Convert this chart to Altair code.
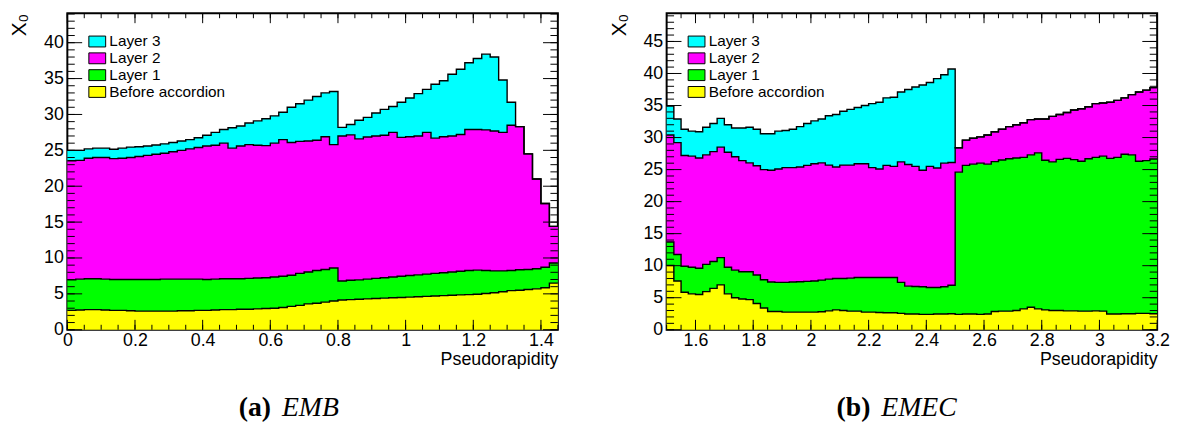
import altair as alt
import pandas as pd

# ---------------- data (cumulative X0 at the top of each layer, per bin) ----------------
LAYERS = ["Layer 3", "Layer 2", "Layer 1", "Before accordion"]
COLORS = ["#00ffff", "#ff00ff", "#00ff00", "#ffff00"]

# EMB: 0 < eta < 1.45, bins of 0.025
emb_eta_min, emb_eta_max, emb_bin = 0.0, 1.45, 0.025
emb_before = [2.7, 2.75, 2.8, 2.8, 2.75, 2.7, 2.7, 2.65, 2.6, 2.6,
              2.6, 2.6, 2.6, 2.65, 2.65, 2.7, 2.7, 2.75, 2.8, 2.8,
              2.85, 2.85, 2.9, 2.95, 3.0, 3.1, 3.25, 3.4, 3.6, 3.7,
              3.85, 4.0, 4.15, 4.2, 4.25, 4.3, 4.35, 4.4, 4.45, 4.5,
              4.55, 4.6, 4.65, 4.7, 4.75, 4.8, 4.85, 4.9, 4.95, 5.05,
              5.15, 5.3, 5.45, 5.5, 5.6, 5.7, 5.85, 6.5]
emb_layer1 = [6.95, 7.05, 7.1, 7.1, 7.05, 7.0, 7.0, 7.0, 7.0, 7.0,
              7.0, 7.05, 7.05, 7.05, 7.05, 7.05, 7.0, 7.05, 7.1, 7.1,
              7.1, 7.15, 7.2, 7.25, 7.35, 7.45, 7.6, 7.85, 8.05, 8.25,
              8.4, 8.6, 6.8, 6.9, 6.95, 7.05, 7.15, 7.25, 7.35, 7.45,
              7.55, 7.65, 7.75, 7.85, 7.95, 8.05, 8.15, 8.25, 8.3, 8.25,
              8.2, 8.2, 8.25, 8.35, 8.4, 8.5, 8.7, 9.3]
emb_layer2 = [23.55, 23.6, 23.9, 24.0, 24.0, 23.85, 23.9, 24.0, 24.15, 24.3,
              24.45, 24.6, 24.8, 25.0, 25.2, 25.4, 25.6, 25.7, 26.0, 25.3,
              25.6, 25.8, 25.7, 25.65, 26.0, 26.5, 26.1, 26.25, 26.3, 26.4,
              26.9, 25.8, 27.0, 27.15, 26.6, 26.85, 27.0, 27.1, 27.5, 26.8,
              26.9, 27.0, 27.5, 26.7, 26.9, 27.0, 27.2, 27.9, 27.9, 27.85,
              27.7, 27.5, 28.5, 28.3, 24.5, 21.0, 17.6, 14.4]
emb_layer3 = [25.0, 25.0, 25.2, 25.3, 25.3, 25.15, 25.3, 25.45, 25.5, 25.6,
              25.75, 25.9, 26.1, 26.3, 26.5, 26.75, 27.1, 27.5, 27.9, 28.15,
              28.4, 28.8, 29.1, 29.4, 29.8, 30.3, 31.0, 31.5, 32.0, 32.5,
              33.0, 33.2, 28.2, 28.6, 29.2, 29.6, 30.2, 30.7, 31.1, 31.7,
              32.3, 32.9, 33.5, 34.2, 34.7, 35.6, 36.3, 37.2, 37.8, 38.4,
              38.0, 34.8, 31.7, 28.3, 24.5, 21.0, 17.6, 14.4]

# EMEC: 1.5 < eta < 3.2, bins of 0.025
emec_eta_min, emec_eta_max, emec_bin = 1.5, 3.2, 0.025
emec_before = [10.05, 7.6, 5.85, 5.6, 5.5, 5.95, 6.45, 7.0, 5.6, 5.0,
               4.8, 4.7, 4.1, 3.4, 2.85, 2.85, 2.75, 2.75, 2.75, 2.75,
               2.75, 2.8, 2.95, 3.1, 3.0, 2.9, 2.9, 2.75, 2.75, 2.7,
               2.65, 2.65, 2.55, 2.45, 2.45, 2.4, 2.4, 2.45, 2.45, 2.5,
               2.4, 2.45, 2.45, 2.4, 2.45, 2.85, 2.9, 2.9, 3.0, 3.25,
               3.5, 3.25, 3.1, 3.0, 3.0, 2.95, 2.95, 2.9, 2.9, 2.95,
               2.9, 2.45, 2.45, 2.5, 2.5, 2.55, 2.55, 2.5]
emec_layer1 = [13.7, 11.75, 9.9, 9.75, 9.6, 10.2, 10.65, 11.25, 9.75, 9.3,
               9.05, 9.05, 8.55, 7.8, 7.45, 7.4, 7.4, 7.45, 7.5, 7.55,
               7.6, 7.75, 7.9, 8.0, 8.0, 8.05, 8.15, 8.15, 8.15, 8.15,
               8.15, 8.15, 7.4, 6.8, 6.75, 6.7, 6.6, 6.6, 6.7, 6.95,
               24.6, 25.65, 25.85, 26.0, 25.85, 26.25, 26.5, 26.7, 26.8, 26.9,
               27.3, 27.6, 26.45, 26.2, 26.6, 26.75, 26.55, 26.3, 26.7, 26.9,
               27.1, 26.75, 26.9, 27.4, 27.3, 26.3, 26.4, 26.65]
emec_layer2 = [30.4, 29.2, 27.2, 27.1, 26.8, 27.3, 27.8, 28.5, 27.7, 27.0,
               26.4, 26.05, 25.6, 25.0, 24.9, 25.1, 25.3, 25.3, 25.4, 25.65,
               25.9, 26.05, 25.7, 25.4, 25.7, 25.7, 25.9, 25.9, 25.3, 25.1,
               25.65, 25.5, 26.2, 25.8, 25.5, 24.9, 25.5, 25.25, 26.0, 26.1,
               28.4, 29.6, 29.9, 30.1, 30.4, 30.9, 31.3, 31.7, 32.0, 32.3,
               32.8, 32.9, 32.9, 33.3, 33.6, 33.9, 34.3, 34.5, 34.8, 35.3,
               35.4, 35.5, 35.8, 36.2, 36.7, 37.1, 37.4, 37.8]
emec_layer3 = [34.9, 32.9, 31.3, 31.0, 30.9, 31.6, 32.2, 33.0, 32.0, 31.5,
               31.5, 31.6, 31.3, 30.6, 30.6, 31.0, 31.1, 31.3, 31.7, 32.2,
               32.6, 32.9, 33.4, 33.6, 34.1, 34.4, 34.7, 35.0, 35.3, 35.5,
               36.2, 36.3, 37.1, 37.5, 37.9, 38.2, 38.6, 39.2, 39.8, 40.7,
               28.4, 29.6, 29.9, 30.1, 30.4, 30.9, 31.3, 31.7, 32.0, 32.3,
               32.8, 32.9, 32.9, 33.3, 33.6, 33.9, 34.3, 34.5, 34.8, 35.3,
               35.4, 35.5, 35.8, 36.2, 36.7, 37.1, 37.4, 37.8]

emb_ymax = 44.1
emec_ymax = 49.4
emb_xticks = [0, 0.2, 0.4, 0.6, 0.8, 1.0, 1.2, 1.4]
emec_xticks = [1.6, 1.8, 2.0, 2.2, 2.4, 2.6, 2.8, 3.0, 3.2]
emb_yticks = [0, 5, 10, 15, 20, 25, 30, 35, 40]
emec_yticks = [0, 5, 10, 15, 20, 25, 30, 35, 40, 45]

caption_tags = ["(a)", "(b)"]
caption_names = ["EMB", "EMEC"]

W, H = 496, 320
SANS = "Liberation Sans"
SERIF = "Liberation Serif"


def layer_table(lo, step, tops):
    names = ["Before accordion", "Layer 1", "Layer 2", "Layer 3"]
    rows = []
    prev = [0.0] * len(tops[0])
    for name, top in zip(names, tops):
        n = len(top)
        for i in range(n + 1):
            j = min(i, n - 1)
            rows.append({"eta": round(lo + i * step, 4), "top": top[j],
                         "bottom": prev[j], "layer": name})
        prev = top
    return pd.DataFrame(rows)


def frange(a, b, s):
    out = []
    k = 0
    while a + k * s <= b + 1e-9:
        out.append(round(a + k * s, 4))
        k += 1
    return out


def panel(df, xdom, ydom, xlabels, ylabels, xminor, yminor, tag, name):
    xs = alt.Scale(domain=xdom, nice=False, zero=False)
    ys = alt.Scale(domain=ydom, nice=False, zero=False)
    xaxis = alt.Axis(values=xlabels, title="Pseudorapidity", titleAnchor="end",
                     ticks=False, domain=False, grid=False, labelFlush=False,
                     labelOverlap=False, labelPadding=2, titlePadding=1, format="~g")
    yaxis = alt.Axis(values=ylabels, title="X₀", ticks=False, domain=False,
                     grid=False, labelOverlap=False, labelPadding=4,
                     titleAngle=270, titleAlign="right", titleBaseline="middle",
                     titleX=-48, titleY=0, titleFontSize=21)

    area = alt.Chart(df).mark_area(interpolate="step-after", opacity=1).encode(
        x=alt.X("eta:Q", scale=xs, axis=xaxis),
        y=alt.Y("top:Q", scale=ys, stack=None, axis=yaxis),
        y2="bottom:Q",
        color=alt.Color("layer:N", scale=alt.Scale(domain=LAYERS, range=COLORS),
                        legend=alt.Legend(orient="none", legendX=22.5, legendY=20.8,
                                          title=None,
                                          symbolType="M-1.214,-0.786H1.214V0.786H-1.214Z",
                                          symbolSize=196, symbolStrokeColor="black",
                                          symbolStrokeWidth=1, symbolOpacity=1,
                                          labelFont=SANS, labelFontSize=15.5,
                                          labelColor="black", labelOffset=4.5,
                                          rowPadding=0, padding=0)),
    )

    outline = alt.Chart(df).mark_line(interpolate="step-after", color="black",
                                      strokeWidth=1.4).encode(
        x=alt.X("eta:Q", scale=xs, axis=xaxis),
        y=alt.Y("top:Q", scale=ys, axis=yaxis),
        detail="layer:N",
    )

    def xt(vals, y0, y1):
        return alt.Chart(pd.DataFrame({"eta": vals})).mark_rule(
            color="black", strokeWidth=1).encode(
            x=alt.X("eta:Q", scale=xs, axis=xaxis), y=alt.value(y0), y2=alt.value(y1))

    def yt(vals, x0, x1):
        return alt.Chart(pd.DataFrame({"top": vals})).mark_rule(
            color="black", strokeWidth=1).encode(
            y=alt.Y("top:Q", scale=ys, axis=yaxis), x=alt.value(x0), x2=alt.value(x1))

    ticks = [
        xt(xlabels, H, H - 10), xt(xminor, H, H - 5),
        xt(xlabels, 0, 10), xt(xminor, 0, 5),
        yt(ylabels, 0, 15), yt(yminor, 0, 7.5),
        yt(ylabels, W, W - 15), yt(yminor, W, W - 7.5),
    ]

    cap_tag = alt.Chart(pd.DataFrame({"t": [tag]})).mark_text(
        font=SERIF, fontSize=28, fontWeight="bold", align="right",
        baseline="alphabetic", color="black").encode(
        text="t:N", x=alt.value(206), y=alt.value(H + 87))
    cap_name = alt.Chart(pd.DataFrame({"t": [name]})).mark_text(
        font=SERIF, fontSize=28, fontStyle="italic", align="left",
        baseline="alphabetic", color="black").encode(
        text="t:N", x=alt.value(217), y=alt.value(H + 87))

    return alt.layer(area, outline, *ticks, cap_tag, cap_name).properties(width=W, height=H)


emb_df = layer_table(emb_eta_min, emb_bin, [emb_before, emb_layer1, emb_layer2, emb_layer3])
emec_df = layer_table(emec_eta_min, emec_bin, [emec_before, emec_layer1, emec_layer2, emec_layer3])

left = panel(emb_df, [emb_eta_min, emb_eta_max], [0, emb_ymax], emb_xticks, emb_yticks,
             frange(0.0, 1.45, 0.05), list(range(0, 45)), caption_tags[0], caption_names[0])
right = panel(emec_df, [emec_eta_min, emec_eta_max], [0, emec_ymax], emec_xticks, emec_yticks,
              frange(1.5, 3.2, 0.05), list(range(0, 50)), caption_tags[1], caption_names[1])

chart = alt.hconcat(left, right, spacing=46).resolve_scale(
    x="independent", y="independent", color="independent"
).resolve_legend(color="independent").configure_view(
    stroke="black", strokeWidth=2
).configure_axis(
    labelFont=SANS, labelFontSize=18, labelColor="black",
    titleFont=SANS, titleFontSize=18, titleFontWeight="normal", titleColor="black",
).properties(padding={"left": 0, "top": 1, "right": 0, "bottom": 0}, background="white")

chart.save("out.html", embed_options={"renderer": "svg", "actions": False})
